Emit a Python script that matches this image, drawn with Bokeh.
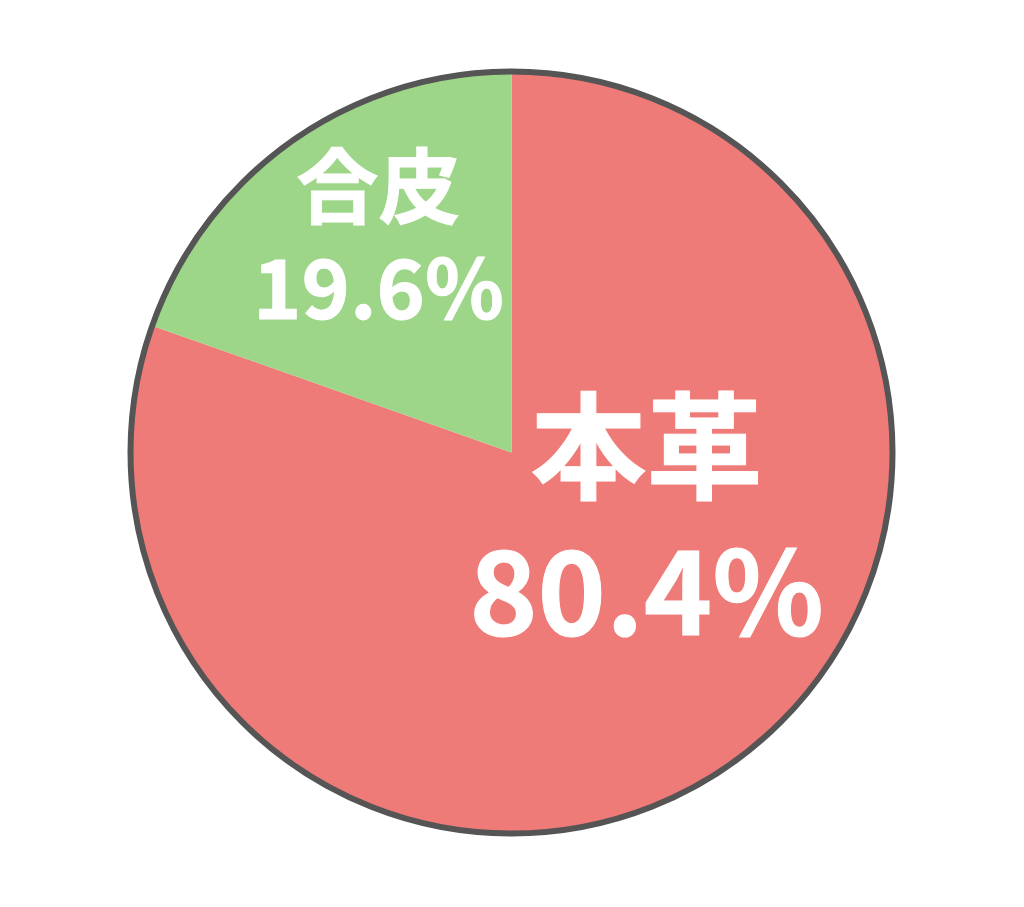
import math
from bokeh.plotting import figure
from bokeh.models import Range1d, ColumnDataSource
from bokeh.core.properties import value
from bokeh.embed import file_html
from bokeh.resources import INLINE

categories = ["本革", "合皮"]
shares = [80.4, 19.6]
colors = ["#EF7B78", "#9DD688"]
pct_labels = ["80.4%", "19.6%"]

W, H = 1008, 891
cx_px, cy_px = 511, 452  # pie center in figure pixels
p = figure(width=W, height=H, output_backend="svg", toolbar_location=None,
           x_range=Range1d(-cx_px, W - cx_px), y_range=Range1d(-(H - cy_px), cy_px),
           min_border=0)
p.axis.visible = False
p.grid.visible = False
p.outline_line_color = None
p.background_fill_color = "white"

R = 381
total = sum(shares)
start = math.pi / 2
green_end = start + 2 * math.pi * shares[1] / total
starts = [green_end, start]
ends = [start + 2 * math.pi, green_end]
src = ColumnDataSource(dict(start=starts, end=ends, color=colors))
p.wedge(x=0, y=0, radius=R, start_angle="start", end_angle="end", direction="anticlock",
        fill_color="color", line_color=None, source=src)
p.circle(x=0, y=0, radius=R, fill_color=None, line_color="#555555", line_width=6)

font = value("Noto Sans CJK JP")
lab_x = [646 - 511, 378 - 511]
name_y = [452 - 438, 452 - 181]
pct_y = [452 - 583, 452 - 283]
sizes = ["116px", "82px"]
for i in range(2):
    for yy, txt in ((name_y[i], categories[i]), (pct_y[i], pct_labels[i])):
        p.text(x=[lab_x[i]], y=[yy], text=[txt], text_font=font,
               text_font_size=sizes[i], text_font_style="bold", text_color="white",
               text_outline_color="white",
               text_align="center", text_baseline="middle")

open("out.html", "w").write(file_html(p, INLINE))
